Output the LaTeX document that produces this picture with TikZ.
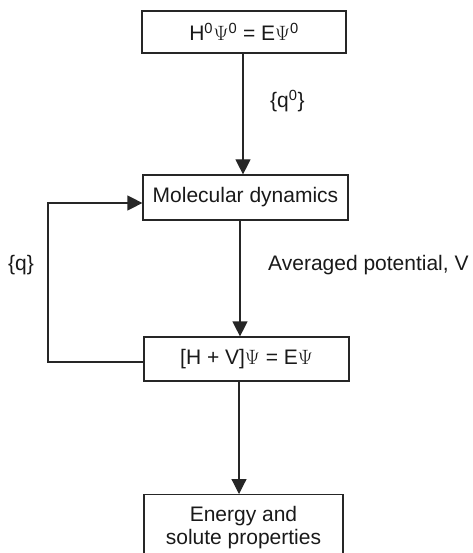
\documentclass[tikz,border=0pt]{standalone}
\usepackage{fontspec}
\setmainfont{Liberation Sans}
\usetikzlibrary{arrows.meta}
\begin{document}
\begin{tikzpicture}[x=1pt,y=-1pt,
  box/.style={draw=black!85,line width=1.2pt,inner sep=0pt,font=\fontsize{21}{23}\selectfont,text=black!90},
  arr/.style={line width=1.2pt,draw=black!85,-{Triangle[width=15pt,length=15pt]}},
  lbl/.style={inner sep=0pt,font=\fontsize{21}{23}\selectfont,text=black!90}]
\useasboundingbox (0,0) rectangle (472,553);
\clip (0,0) rectangle (472,553);
\node[box,minimum width=204pt,minimum height=42pt] (b1) at (244,32) {H$^{\mathrm{0}}$\kern0.5pt$\Psi^{\mathrm{0}}$ = E$\Psi^{\mathrm{0}}$};
\node[box,minimum width=205pt,minimum height=45pt] (b2) at (245.5,197.5) {Molecular dynamics};
\node[box,minimum width=205pt,minimum height=44pt] (b3) at (246.5,359) {[H + V]$\Psi$ = E$\Psi$};
\node[box,minimum width=199pt,minimum height=66pt,align=center,anchor=north] (b4) at (243.5,494) {\rule{0pt}{13pt}Energy and\\solute properties};
\draw[arr] ([xshift=-1pt]b1.south) -- ([xshift=-2.5pt]b2.north);
\draw[arr] ([xshift=-5.5pt]b2.south) -- ([xshift=-6.5pt]b3.north);
\draw[arr] ([xshift=-7.5pt]b3.south) -- ([xshift=-4.5pt]b4.north);
\coordinate (lb) at (48,362);
\coordinate (lt) at (48,203);
\draw[arr] (b3.west |- lb) -- (lb) -- (lt) -- (b2.west |- lt);
\node[lbl,anchor=west] (l1) at (270,101) {\{q$^{\mathrm{0}}$\}};
\node[lbl,anchor=west] (l2) at (268,265) {Averaged potential, V};
\node[lbl,anchor=west] (l3) at (8,265) {\{q\}};
\end{tikzpicture}
\end{document}
